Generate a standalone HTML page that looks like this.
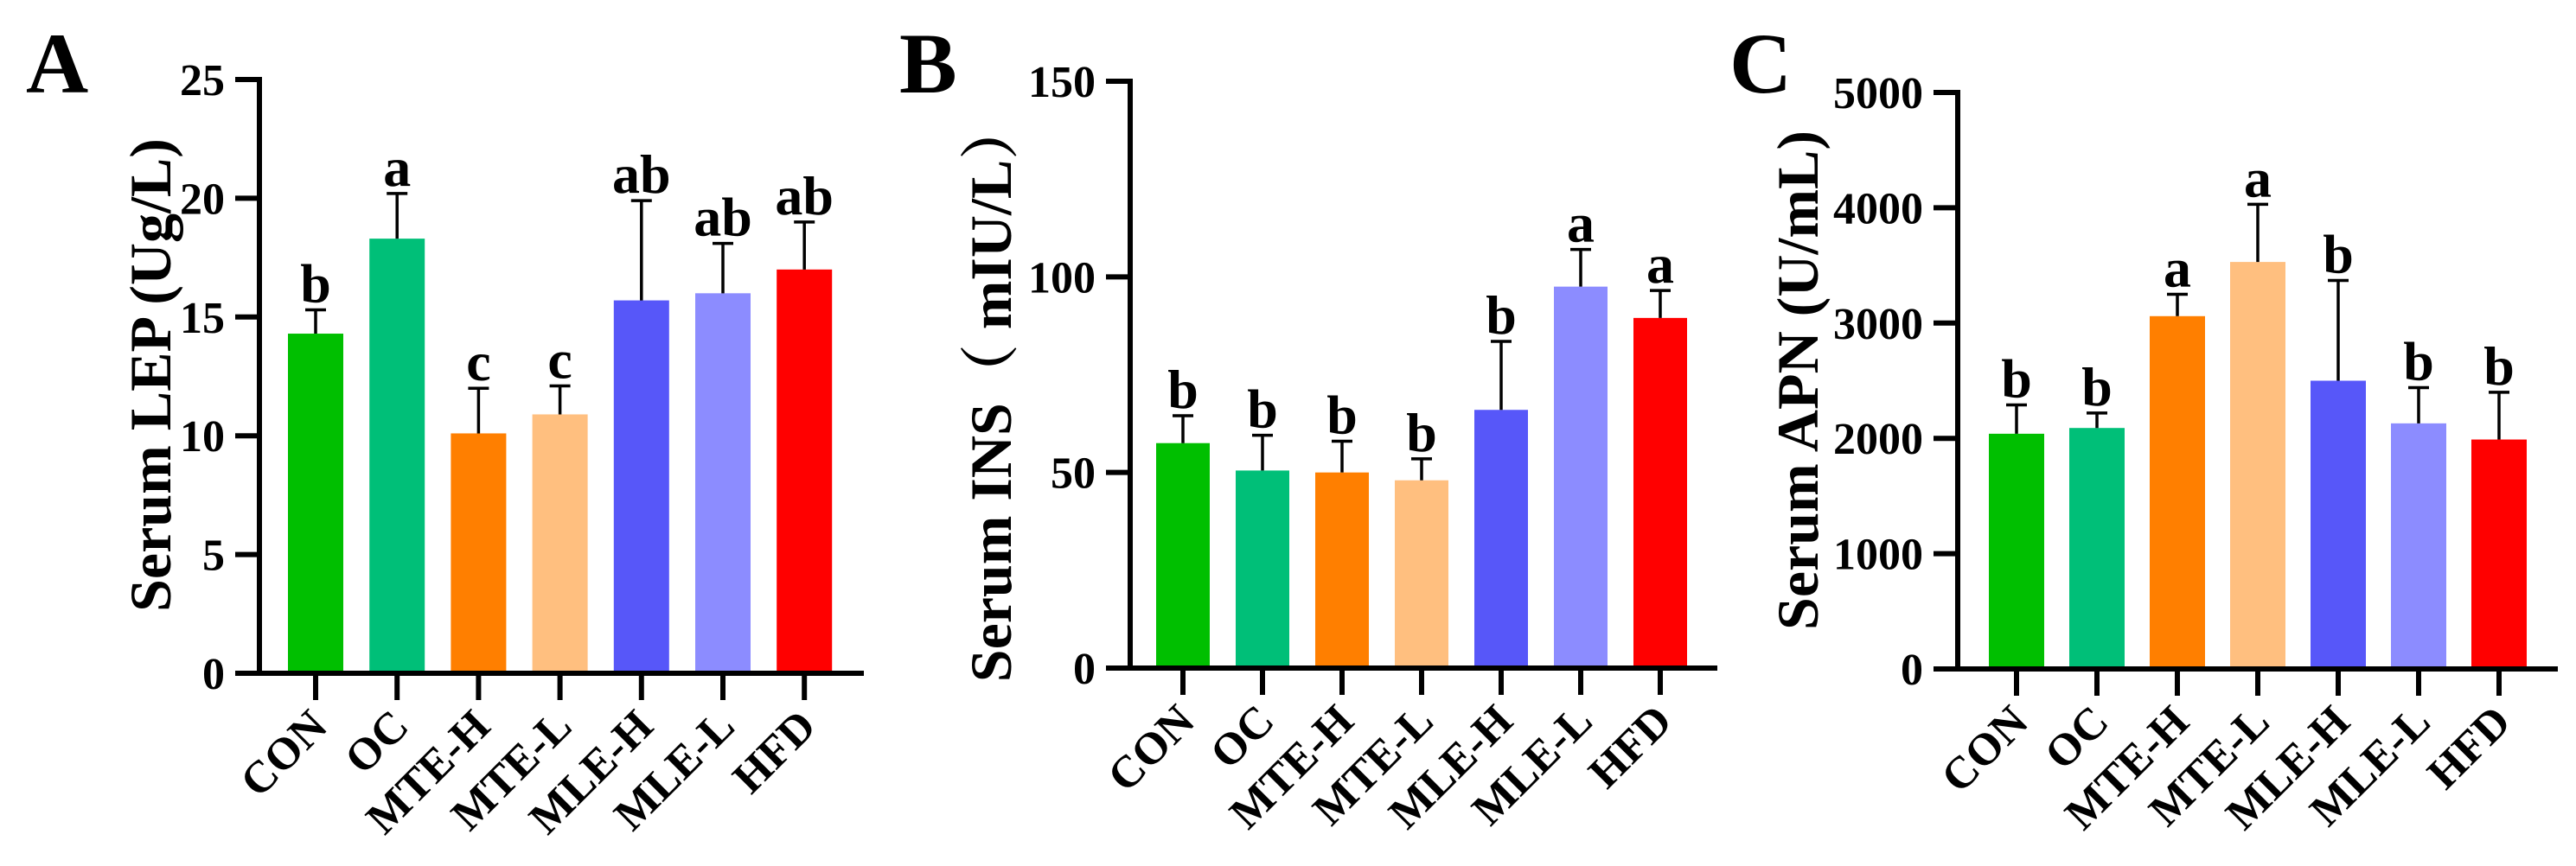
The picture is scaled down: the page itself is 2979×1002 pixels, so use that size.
<!DOCTYPE html>
<html><head><meta charset="utf-8"><style>
html,body{margin:0;padding:0;background:#fff;}
svg{display:block;}
text{font-family:"Liberation Serif","Noto Serif CJK SC",serif;font-weight:bold;fill:#000;}
</style></head><body>
<svg id="chart" width="2979" height="1002" viewBox="0 0 2979 1002" xmlns="http://www.w3.org/2000/svg"></svg>
<script>
const categories = ["CON","OC","MTE-H","MTE-L","MLE-H","MLE-L","HFD"];
const barColors = ["#00bf00","#00bf78","#ff7f00","#ffbf7f","#5757f9","#8c8cff","#ff0000"];
const lepMeans = [14.3,18.3,10.1,10.9,15.7,16.0,17.0];
const lepErrs  = [1.0,1.9,1.9,1.2,4.2,2.1,2.0];
const lepLetters = ["b","a","c","c","ab","ab","ab"];
const lepTicks = [0,5,10,15,20,25];
const insMeans = [57.5,50.5,50.0,48.0,66.0,97.5,89.5];
const insErrs  = [7.0,9.0,8.0,5.5,17.5,9.5,7.0];
const insLetters = ["b","b","b","b","b","a","a"];
const insTicks = [0,50,100,150];
const apnMeans = [2040,2090,3060,3530,2500,2130,1990];
const apnErrs  = [250,130,190,500,870,310,410];
const apnLetters = ["b","b","a","a","b","b","b"];
const apnTicks = [0,1000,2000,3000,4000,5000];

const svg = document.getElementById('chart');
const NS = 'http://www.w3.org/2000/svg';
function mk(tag, attrs, parent){
  const e = document.createElementNS(NS, tag);
  for (const k in attrs) e.setAttribute(k, attrs[k]);
  (parent||svg).appendChild(e);
  return e;
}
function panel(cfg){
  const g = mk('g', {});
  
  
  const max = cfg.ticks[cfg.ticks.length-1];
  const y = v => cfg.y0 - (v/max)*(cfg.y0-cfg.yTop);
  const x = i => cfg.x0c + i*cfg.step;
  const pl = mk('text', {x:cfg.lx, y:107, 'font-size':100}, g);
  pl.textContent = cfg.letter;
  
  
  const t = mk('text', {transform:`translate(${cfg.tx},${cfg.ty}) rotate(-90)`, 'text-anchor':'middle', 'font-size':68}, g);
  t.textContent = cfg.title;
  
  
  categories.forEach((c,i)=>{
    const m = cfg.means[i], e = cfg.errs[i];
    const r = mk('rect', {x:x(i)-cfg.bw/2, y:y(m), width:cfg.bw, height:cfg.y0-y(m), fill:barColors[i]}, g);
    
    
    const eb = mk('path', {d:`M${x(i)},${y(m)} V${y(m+e)} M${x(i)-12},${y(m+e)} H${x(i)+12}`, stroke:'#000', 'stroke-width':3.5, fill:'none'}, g);
    
    
    const lt = mk('text', {x:x(i), y:y(m+e)-9, 'text-anchor':'middle', 'font-size':64}, g);
    lt.textContent = cfg.letters[i];
    
    
    const tk = mk('line', {x1:x(i), x2:x(i), y1:cfg.y0, y2:cfg.y0+31, stroke:'#000', 'stroke-width':6}, g);
    
    
    const cl = mk('text', {transform:`translate(${x(i)+16},${cfg.y0+64}) rotate(-45)`, 'text-anchor':'end', 'font-size':52}, g);
    cl.textContent = c;
    
    
  });
  const ya = mk('line', {x1:cfg.ax, x2:cfg.ax, y1:cfg.yTop-3, y2:cfg.y0+3, stroke:'#000', 'stroke-width':6}, g);
  
  
  const xa = mk('line', {x1:cfg.ax-28, x2:cfg.xEnd, y1:cfg.y0, y2:cfg.y0, stroke:'#000', 'stroke-width':6}, g);
  
  
  cfg.ticks.forEach(v=>{
    const tl = mk('line', {x1:cfg.ax-28, x2:cfg.ax, y1:y(v), y2:y(v), stroke:'#000', 'stroke-width':6}, g);
    
    
    const tt = mk('text', {x:cfg.ax-40, y:y(v)+18, 'text-anchor':'end', 'font-size':52}, g);
    tt.textContent = v;
    
    
  });
}
panel({id:'lep', letter:'A', lx:30, title:'Serum LEP (Ug/L)', tx:197, ty:434,
  ax:300, yTop:92, y0:779, xEnd:999, x0c:365, step:94.2, bw:64,
  means:lepMeans, errs:lepErrs, letters:lepLetters, ticks:lepTicks});
panel({id:'ins', letter:'B', lx:1040, title:'Serum INS\uFF08 mIU/L\uFF09', tx:1169, ty:453,
  ax:1307, yTop:94, y0:773, xEnd:1986, x0c:1368, step:92, bw:62,
  means:insMeans, errs:insErrs, letters:insLetters, ticks:insTicks});
panel({id:'apn', letter:'C', lx:2000, title:'Serum APN (U/mL)', tx:2102, ty:440,
  ax:2264, yTop:107, y0:774, xEnd:2958, x0c:2332, step:93, bw:64,
  means:apnMeans, errs:apnErrs, letters:apnLetters, ticks:apnTicks});
</script>
</body></html>
